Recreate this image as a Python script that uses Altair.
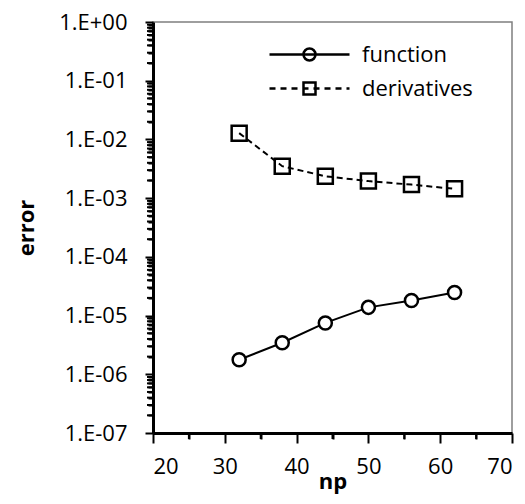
import altair as alt
import pandas as pd

# ---- data ----
np_values = [32, 38, 44, 50, 56, 62]
function_error = [1.77e-6, 3.44e-6, 7.5e-6, 1.38e-5, 1.8e-5, 2.48e-5]
derivatives_error = [1.28e-2, 3.5e-3, 2.36e-3, 1.95e-3, 1.7e-3, 1.44e-3]
series_names = ["function", "derivatives"]
x_tick_values = [20, 25, 30, 35, 40, 45, 50, 55, 60, 65, 70]
x_minor_ticks = [25, 35, 45, 55, 65]
y_exponents = [-7, -6, -5, -4, -3, -2, -1, 0]

rows = []
for x, v in zip(np_values, function_error):
    rows.append({"np": x, "error": v, "series": "function"})
for x, v in zip(np_values, derivatives_error):
    rows.append({"np": x, "error": v, "series": "derivatives"})
df = pd.DataFrame(rows)

y_minor_ticks = [m * 10.0 ** e for e in y_exponents[:-1] for m in range(2, 10)]
y_tick_values = sorted([10.0 ** e for e in y_exponents] + y_minor_ticks)

LGV = "log(datum.value)/LN10"
is_major_y = f"abs({LGV} - round({LGV})) < 0.001"
LG = f"round({LGV})"
y_label_expr = f"{is_major_y} ? '1.E' + ({LG} < 0 ? '-' : '+') + '0' + abs({LG}) : ''"
is_major_x = "datum.value % 10 == 0"

font = "Open Sans"
W, H = 359, 411
x_scale = alt.Scale(domain=[20, 70], nice=False, zero=False)
y_scale = alt.Scale(type="log", domain=[1e-7, 1], nice=False)

y_axis = alt.Axis(values=y_tick_values, labelExpr=y_label_expr,
                  tickSize={"condition": {"test": is_major_y, "value": 8}, "value": 5},
                  labelPadding=18, titlePadding=20, orient="left")
x_axis = alt.Axis(values=x_tick_values, labelExpr=f"{is_major_x} ? datum.label : ''",
                  tickSize={"condition": {"test": is_major_x, "value": 10}, "value": 6},
                  labelPadding=13, titlePadding=-6, orient="bottom")

# only one layer carries the axes; all others have none (axes resolved independently)
X = alt.X("np:Q", scale=x_scale, axis=x_axis, title="np")
Y = alt.Y("error:Q", scale=y_scale, axis=y_axis, title="error")
Xn = alt.X("np:Q", scale=x_scale, axis=None)
Yn = alt.Y("error:Q", scale=y_scale, axis=None)

with_axes = alt.Chart(df).encode(x=X, y=Y)
no_axes = alt.Chart(df).encode(x=Xn, y=Yn)

line_f = with_axes.transform_filter(alt.datum.series == "function").mark_line(color="black", strokeWidth=2)
line_d = no_axes.transform_filter(alt.datum.series == "derivatives").mark_line(
    color="black", strokeWidth=2, strokeDash=[6, 4])

squares = no_axes.transform_filter(alt.datum.series == "derivatives").mark_point(
    shape="square", size=225, filled=False, stroke="black", strokeWidth=2.5, opacity=1)
circles = no_axes.transform_filter(alt.datum.series == "function").mark_point(
    shape="circle", size=170, filled=True, fill="white", fillOpacity=1,
    stroke="black", strokeWidth=2.5, opacity=1)

# minor ticks also drawn as short rules (positions through the shared scales)
y_minor = alt.Chart(pd.DataFrame({"error": y_minor_ticks})).mark_rule(color="black", strokeWidth=2).encode(
    y=Yn, x=alt.value(-6), x2=alt.value(0)
)
x_minor = alt.Chart(pd.DataFrame({"np": x_minor_ticks})).mark_rule(color="black", strokeWidth=2).encode(
    x=Xn, y=alt.value(H), y2=alt.value(H + 6)
)

# legend symbols: line + marker drawn as custom symbol paths (1 unit = 11 px)
U = 11.0
half = 40 / U
r = 6 / U
path_function = (f"M{-half:.4f},0H{half:.4f}M{r:.4f},0A{r:.4f},{r:.4f},0,1,1,{-r:.4f},0"
                 f"A{r:.4f},{r:.4f},0,1,1,{r:.4f},0Z")
dash_parts = []
for s in range(0, 80, 11):
    e = min(s + 6, 80)
    dash_parts.append(f"M{(s - 40) / U:.4f},0H{(e - 40) / U:.4f}")
path_derivs = "".join(dash_parts) + f"M{-r:.4f},{-r:.4f}H{r:.4f}V{r:.4f}H{-r:.4f}Z"

legend_layer = no_axes.mark_point(size=0, color="black", filled=False).encode(
    shape=alt.Shape(
        "series:N",
        scale=alt.Scale(domain=series_names, range=[path_function, path_derivs]),
        legend=alt.Legend(
            title=None,
            orient="none",
            legendX=144,
            legendY=20,
            padding=0,
            symbolOffset=0,
            symbolSize=484,
            symbolStrokeWidth=2.5,
            symbolStrokeColor="black",
            symbolFillColor="transparent",
            symbolOpacity=1,
            labelFont=font,
            labelFontSize=22,
            labelColor="black",
            labelOffset=40,
            rowPadding=10,
        ),
    ),
)

chart = alt.layer(line_f, line_d, squares, circles, legend_layer, y_minor, x_minor).resolve_axis(
    x="independent", y="independent"
).properties(
    width=W,
    height=H,
    autosize="none",
    padding={"left": 145, "top": 14, "right": 5, "bottom": 63},
).configure_view(
    stroke="#7f7f7f", strokeWidth=1.5
).configure_axis(
    grid=False,
    domainColor="black",
    domainWidth=3,
    tickColor="black",
    tickWidth=2,
    labelFont=font,
    labelFontSize=22,
    labelColor="black",
    titleFont=font,
    titleFontSize=22,
    titleFontWeight="bold",
    titleColor="black",
)

chart.save("out.html", embed_options={"renderer": "svg", "actions": False})
